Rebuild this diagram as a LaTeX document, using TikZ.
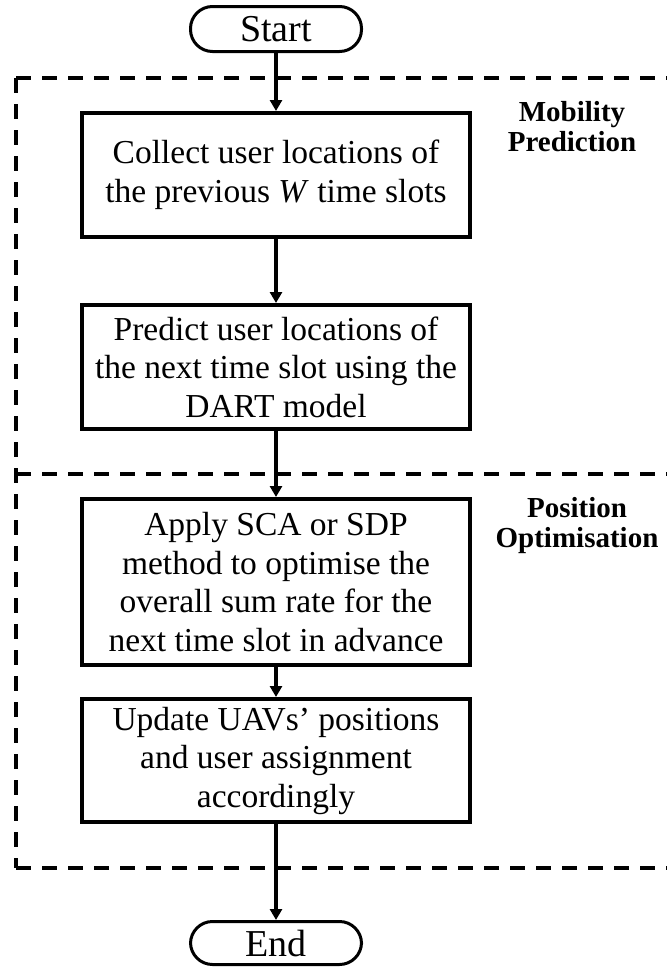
\documentclass[tikz,border=0pt]{standalone}
\usepackage{fontspec}
\setmainfont{Liberation Serif}
\usetikzlibrary{arrows.meta}
\begin{document}
\begin{tikzpicture}[x=1pt,y=-1pt,
  stepbox/.style={draw,line width=4pt,minimum width=388pt,inner sep=0pt,align=center,font=\fontsize{33.5}{38.5}\selectfont},
  term/.style={draw,line width=3pt,rounded corners=22pt,minimum width=171pt,minimum height=45pt,inner sep=0pt,font=\fontsize{38}{40}\selectfont},
  flow/.style={line width=3.5pt,-{Triangle[length=11pt,width=12pt]}},
  region/.style={line width=4pt,dash pattern=on 15pt off 11pt},
  tag/.style={align=center,font=\bfseries\fontsize{29}{30}\selectfont}]
\useasboundingbox (0,0) rectangle (667,969);

% dashed regions
\coordinate (tl) at (16,78);
\coordinate (tr) at (667,78);
\coordinate (ml) at (16,474);
\coordinate (mr) at (667,474);
\coordinate (bl) at (16,868);
\coordinate (br) at (667,868);
\draw[region] (tl) -- (tr);
\draw[region] (tl) -- (bl);
\draw[region] (ml) -- (mr);
\draw[region] (bl) -- (br);

% nodes
\node[term] (start) at (276,29) {Start};
\node[stepbox,minimum height=124pt] (b1) at (276,175) {Collect user locations of\\the previous \textit{W} time slots};
\node[stepbox,minimum height=124pt] (b2) at (276,367) {Predict user locations of\\the next time slot using the\\DART model};
\node[stepbox,minimum height=166pt] (b3) at (276,582) {Apply SCA or SDP\\method to optimise the\\overall sum rate for the\\next time slot in advance};
\node[stepbox,minimum height=123pt] (b4) at (276,760.5) {Update UAVs’ positions\\and user assignment\\accordingly};
\node[term,minimum height=43pt] (end) at (276,943) {End};

\node[tag] (mob) at (572,127) {Mobility\\Prediction};
\node[tag] (pos) at (577,525.5) {Position\\Optimisation};

% connectors
\draw[flow] (start) -- (b1);
\draw[flow] (b1) -- (b2);
\draw[flow] (b2) -- (b3);
\draw[flow] (b3) -- (b4);
\draw[flow] (b4) -- (end);
\end{tikzpicture}
\end{document}
